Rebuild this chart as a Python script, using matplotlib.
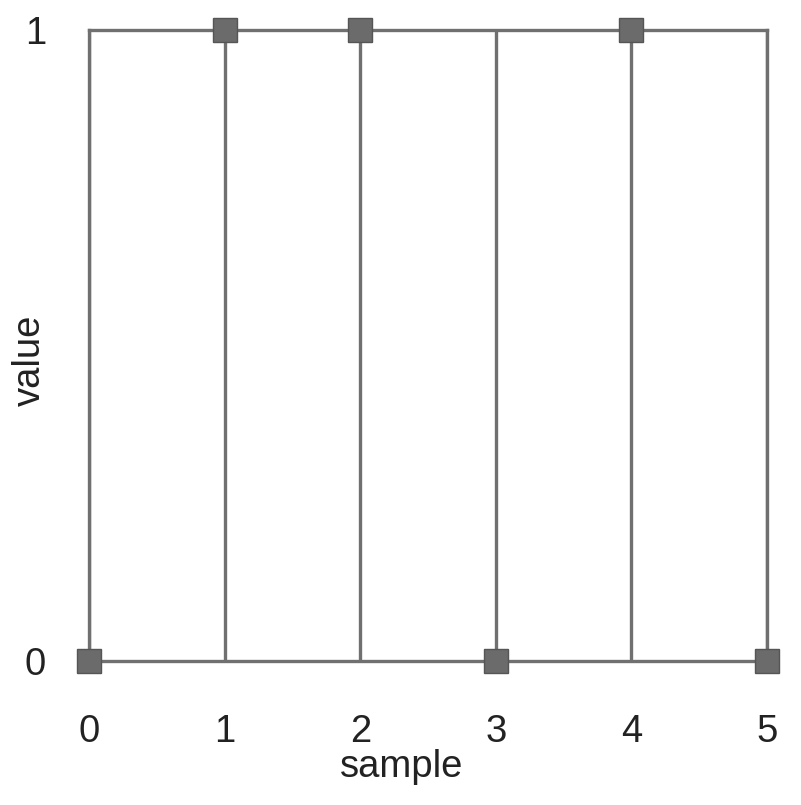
import matplotlib
matplotlib.use("Agg")
import matplotlib.pyplot as plt

# samples and their binary values
samples = [0, 1, 2, 3, 4, 5]
values = [0, 1, 1, 0, 1, 0]
y_ticks = [0, 1]

line_gray = "#707070"
text_col = '#222222'

plt.rcParams['font.family'] = ['Liberation Sans', 'DejaVu Sans']

fig = plt.figure(figsize=(8.01, 8.05), dpi=100)
ax = fig.add_axes([89 / 801, 1 - 661 / 805, (767 - 89) / 801, (661 - 30) / 805])

ax.plot(samples, values, linestyle='none', marker='s', markersize=17,
        markerfacecolor='#6b6b6b', markeredgecolor='#555555', markeredgewidth=1,
        clip_on=False, zorder=5)

ax.set_xlim(samples[0], samples[-1])
ax.set_ylim(0, 1)
ax.set_xticks(samples)
ax.set_yticks(y_ticks)
ax.tick_params(length=0, labelsize=27.5, colors=text_col)
ax.tick_params(axis='x', pad=38)
ax.tick_params(axis='y', pad=31)

for s in ax.spines.values():
    s.set_color(line_gray)
    s.set_linewidth(2.4)

ax.grid(True, axis='x', color=line_gray, linewidth=2.4)
ax.set_axisbelow(True)

ax.set_xlabel("sample", fontsize=27.5, color=text_col)
ax.set_ylabel("value", fontsize=27.5, color=text_col)
ax.xaxis.set_label_coords(0.461, -0.140)
ax.yaxis.set_label_coords(-0.060, 0.476)

fig.savefig("out.png", dpi=100)
